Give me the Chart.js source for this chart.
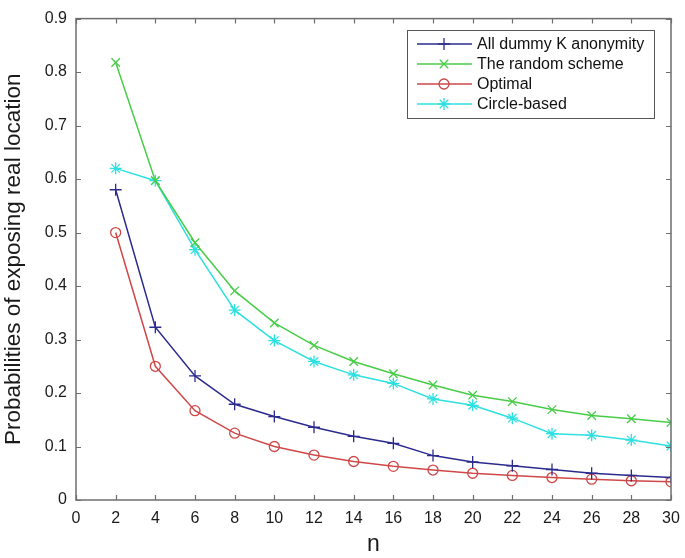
<!DOCTYPE html>
<html>
<head>
<meta charset="utf-8">
<script src="https://cdn.jsdelivr.net/npm/chart.js@4/dist/chart.umd.min.js"></script>
<style>
  html, body { margin: 0; padding: 0; background: #fff; }
  #wrap { width: 685px; height: 558px; }
</style>
</head>
<body>
<div id="wrap"><canvas id="probChart" width="685" height="558"></canvas></div>
<script>
// values
const nValues = [2, 4, 6, 8, 10, 12, 14, 16, 18, 20, 22, 24, 26, 28, 30];
const dummyK = [0.58, 0.323, 0.232, 0.179, 0.156, 0.136, 0.119, 0.106, 0.083, 0.071, 0.064, 0.057, 0.050, 0.046, 0.042];
const randomScheme = [0.818, 0.597, 0.481, 0.391, 0.331, 0.289, 0.259, 0.236, 0.215, 0.196, 0.184, 0.169, 0.158, 0.152, 0.145];
const optimal = [0.5, 0.25, 0.167, 0.125, 0.1, 0.084, 0.072, 0.063, 0.056, 0.05, 0.046, 0.042, 0.039, 0.036, 0.034];
const circleBased = [0.62, 0.597, 0.468, 0.355, 0.298, 0.259, 0.234, 0.218, 0.189, 0.177, 0.153, 0.124, 0.121, 0.112, 0.101];

const seriesNames = ['All dummy K anonymity', 'The random scheme', 'Optimal', 'Circle-based'];
const seriesColors = ['#2b2b8f', '#48cc48', '#cf4848', '#2ee0e0'];
const seriesMarkers = ['cross', 'crossRot', 'circle', 'star'];
const seriesValues = [dummyK, randomScheme, optimal, circleBased];

const FONT = "'Liberation Sans', Arial, sans-serif";
const AXIS_COLOR = '#6e6e6e';

function toPoints(vals) {
  return vals.map((v, i) => ({ x: nValues[i], y: v }));
}

// MATLAB-like box with inward ticks on all four sides
const boxPlugin = {
  id: 'matlabBox',
  afterDatasetsDraw(chart) {
    const { ctx, chartArea: a, scales } = chart;
    ctx.save();
    ctx.strokeStyle = AXIS_COLOR;
    ctx.lineWidth = 1.5;
    ctx.strokeRect(a.left, a.top, a.right - a.left, a.bottom - a.top);
    ctx.lineWidth = 1.2;
    const t = 5;
    ctx.beginPath();
    scales.x.ticks.forEach(tk => {
      const px = Math.round(scales.x.getPixelForValue(tk.value)) + 0.5;
      ctx.moveTo(px, a.bottom); ctx.lineTo(px, a.bottom - t);
      ctx.moveTo(px, a.top); ctx.lineTo(px, a.top + t);
    });
    scales.y.ticks.forEach(tk => {
      const py = Math.round(scales.y.getPixelForValue(tk.value)) + 0.5;
      ctx.moveTo(a.left, py); ctx.lineTo(a.left + t, py);
      ctx.moveTo(a.right, py); ctx.lineTo(a.right - t, py);
    });
    ctx.stroke();
    ctx.restore();
  }
};

// boxed legend in the upper right of the plot
const legendPlugin = {
  id: 'boxLegend',
  afterDraw(chart) {
    const ctx = chart.ctx;
    const bx = 407, by = 30, bw = 247, bh = 88;
    ctx.save();
    ctx.fillStyle = '#fff';
    ctx.fillRect(bx, by, bw, bh);
    ctx.strokeStyle = '#555';
    ctx.lineWidth = 1;
    ctx.strokeRect(bx + 0.5, by + 0.5, bw, bh);
    ctx.font = '16px ' + FONT;
    ctx.textBaseline = 'middle';
    chart.data.datasets.forEach((ds, i) => {
      const y = by + 14 + i * 20;
      ctx.strokeStyle = ds.borderColor;
      ctx.lineWidth = 1.5;
      ctx.beginPath();
      ctx.moveTo(bx + 10, y); ctx.lineTo(bx + 65, y);
      ctx.stroke();
      ctx.fillStyle = 'rgba(0,0,0,0)';
      ctx.lineWidth = ds.pointBorderWidth;
      Chart.helpers.drawPoint(ctx, {
        pointStyle: ds.pointStyle, radius: ds.pointRadius, rotation: 0, borderWidth: ds.pointBorderWidth
      }, bx + 37, y);
      ctx.fillStyle = '#111';
      ctx.fillText(ds.label, bx + 70, y + 1);
    });
    ctx.restore();
  }
};

const datasets = seriesNames.map((name, i) => ({
  label: name,
  data: toPoints(seriesValues[i]),
  borderColor: seriesColors[i],
  backgroundColor: seriesColors[i],
  borderWidth: 1.5,
  pointStyle: seriesMarkers[i],
  pointRadius: seriesMarkers[i] === 'circle' ? 5 : 6,
  pointBorderWidth: 1.3,
  pointBorderColor: seriesColors[i],
  pointBackgroundColor: 'rgba(0,0,0,0)',
  tension: 0,
  fill: false
}));

new Chart(document.getElementById('probChart'), {
  type: 'line',
  data: { datasets: datasets },
  options: {
    responsive: false,
    animation: false,
    layout: { padding: { left: 0, right: 14, top: 12, bottom: 0 } },
    plugins: { legend: { display: false }, tooltip: { enabled: false } },
    scales: {
      x: {
        type: 'linear',
        min: 0, max: 30,
        grid: { display: false, drawTicks: false },
        border: { display: false },
        ticks: { stepSize: 2, color: '#1a1a1a', padding: 9, font: { family: FONT, size: 16 } },
        title: { display: true, text: 'n', color: '#1a1a1a', font: { family: FONT, size: 23 }, padding: { top: 0, bottom: 0 } },
        afterFit(scale) {
          scale.height = 58;
          scale.paddingLeft = 0;
          scale.paddingRight = 0;
        }
      },
      y: {
        type: 'linear',
        min: 0, max: 0.9,
        grid: { display: false, drawTicks: false },
        border: { display: false },
        ticks: {
          stepSize: 0.1, color: '#1a1a1a', padding: 9, font: { family: FONT, size: 16 },
          callback: v => (Math.abs(v) < 1e-9 ? '0' : v.toFixed(1))
        },
        title: { display: true, text: 'Probabilities of exposing real location', color: '#1a1a1a', font: { family: FONT, size: 22.5 }, padding: { top: 0, bottom: 0 } },
        afterFit(scale) { scale.width = 76; }
      }
    }
  },
  plugins: [boxPlugin, legendPlugin]
});
</script>
</body>
</html>
